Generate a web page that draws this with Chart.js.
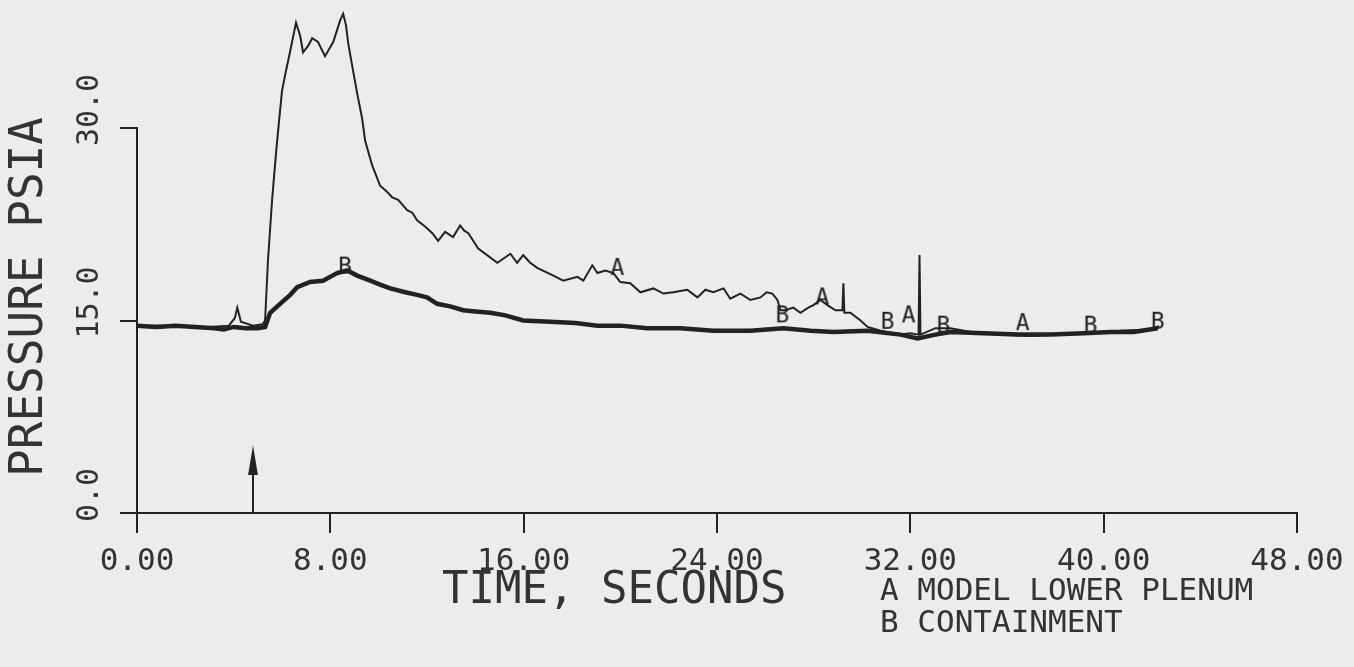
<!DOCTYPE html>
<html>
<head>
<meta charset="utf-8">
<script src="https://cdn.jsdelivr.net/npm/chart.js@4.4.1/dist/chart.umd.min.js"></script>
<style>
    html, body { margin: 0; padding: 0; background: #ececec; }
    #wrap { position: relative; width: 1354px; height: 667px; }
</style>
</head>
<body>
<div id="wrap"><canvas id="pressure-chart" width="1354" height="667"></canvas></div>
<script>
// values: time in seconds, pressure in psia
const timeA = [0, 1.0, 2.0, 3.0, 3.8, 4.05, 4.15, 4.3, 4.8, 5.2, 5.3, 5.42, 5.59, 5.76, 5.88, 6.0, 6.17, 6.34, 6.58, 6.75,
    6.87, 7.08, 7.25, 7.49, 7.78, 8.12, 8.41, 8.53, 8.65, 8.74, 8.9, 9.11, 9.32, 9.44, 9.73, 10.06, 10.31, 10.56, 10.81, 11.18,
    11.39, 11.59, 11.93, 12.22, 12.46, 12.75, 13.08, 13.37, 13.54, 13.71, 14.12, 14.91, 15.45, 15.73, 15.98, 16.27, 16.56, 17.23, 17.64, 18.22,
    18.47, 18.84, 19.05, 19.38, 19.71, 20.0, 20.41, 20.83, 21.37, 21.78, 22.19, 22.77, 23.19, 23.52, 23.85, 24.27, 24.55, 24.97, 25.38, 25.8,
    26.05, 26.29, 26.5, 26.63, 26.83, 27.16, 27.45, 27.78, 27.99, 28.28, 28.57, 28.9, 29.19, 29.23, 29.27, 29.52, 29.94, 30.23, 30.77, 31.59,
    32.0, 32.34, 32.38, 32.42, 33.04, 33.66, 34.5, 35.7, 37.0, 38.2, 39.5, 40.7, 41.9, 42.3];
const lowerPlenum = [14.6, 14.6, 14.5, 14.5, 14.6, 15.2, 16.0, 14.9, 14.6, 14.7, 15.0, 19.7, 24.4, 28.2, 30.6, 32.9, 34.5, 36.0, 38.2, 37.2,
    35.9, 36.4, 37.0, 36.7, 35.6, 36.7, 38.4, 38.9, 38.0, 36.6, 34.9, 32.7, 30.7, 29.0, 27.1, 25.5, 25.1, 24.6, 24.4, 23.6,
    23.4, 22.8, 22.3, 21.8, 21.2, 21.9, 21.5, 22.4, 22.0, 21.8, 20.6, 19.5, 20.2, 19.5, 20.1, 19.5, 19.1, 18.5, 18.1, 18.4,
    18.1, 19.3, 18.7, 18.9, 18.7, 18.0, 17.9, 17.2, 17.5, 17.1, 17.2, 17.4, 16.8, 17.4, 17.2, 17.5, 16.7, 17.1, 16.6, 16.8,
    17.2, 17.1, 16.6, 15.8, 15.8, 16.0, 15.6, 16.0, 16.2, 16.6, 16.2, 15.8, 15.8, 17.9, 15.6, 15.6, 15.0, 14.5, 14.2, 13.9,
    14.0, 13.9, 20.1, 13.9, 14.4, 14.4, 14.1, 13.9, 13.8, 13.9, 14.0, 14.2, 14.3, 14.55];

const timeB = [0, 0.8, 1.6, 2.4, 3.2, 3.6, 4.0, 4.5, 5.0, 5.3, 5.51, 5.92, 6.34, 6.63, 7.16, 7.7, 7.99, 8.28, 8.7, 9.11,
    9.65, 10.06, 10.48, 11.1, 11.59, 12.0, 12.42, 12.96, 13.5, 14.0, 14.62, 15.24, 15.98, 17.1, 18.14, 19.05, 20.0, 21.12, 22.48, 23.85,
    25.38, 26.75, 27.87, 28.82, 30.23, 31.59, 32.3, 33.04, 33.66, 35.03, 36.44, 37.8, 39.17, 40.3, 41.24, 42.24];
const containment = [14.6, 14.5, 14.6, 14.5, 14.4, 14.3, 14.5, 14.4, 14.4, 14.5, 15.6, 16.3, 17.0, 17.6, 18.0, 18.1, 18.4, 18.7, 18.9, 18.5,
    18.1, 17.8, 17.5, 17.2, 17.0, 16.8, 16.3, 16.1, 15.8, 15.7, 15.6, 15.4, 15.0, 14.9, 14.8, 14.6, 14.6, 14.4, 14.4, 14.2,
    14.2, 14.4, 14.2, 14.1, 14.2, 13.9, 13.6, 13.9, 14.1, 14.0, 13.9, 13.9, 14.0, 14.1, 14.1, 14.4];

// letter symbols drawn along the curves
const markTimeA = [19.88, 28.36, 31.93, 36.65];
const markPresA = [19.1, 16.8, 15.4, 14.8];
const markTimeB = [8.61, 26.71, 31.06, 33.37, 39.46, 42.24];
const markPresB = [19.2, 15.4, 14.9, 14.6, 14.6, 14.9];

// event arrow on the time axis
const arrowTime = [4.8, 4.8];
const arrowPres = [0, 4.1];

const xTicks = [0, 8, 16, 24, 32, 40, 48];
const yTicks = [0, 15, 30];

const INK = '#222222';
const TEXT = '#333333';
const MONO = '"DejaVu Sans Mono", monospace';

function toPoints(xs, ys) {
    return xs.map(function(x, i) { return { x: x, y: ys[i] }; });
}

function letterIcon(ch) {
    const c = document.createElement('canvas');
    c.width = 18;
    c.height = 24;
    const g = c.getContext('2d');
    g.font = '23px ' + MONO;
    g.fillStyle = INK;
    g.textAlign = 'center';
    g.textBaseline = 'middle';
    g.fillText(ch, 9, 13);
    return c;
}

function arrowHead() {
    const c = document.createElement('canvas');
    c.width = 12;
    c.height = 30;
    const g = c.getContext('2d');
    g.fillStyle = INK;
    g.beginPath();
    g.moveTo(6, 0);
    g.lineTo(11, 30);
    g.lineTo(1, 30);
    g.closePath();
    g.fill();
    return c;
}

// axis titles and the key sit at fixed spots, as on the original plot
const plotText = {
    id: 'plotText',
    afterDraw: function(chart) {
        const ctx = chart.ctx;
        ctx.save();
        ctx.fillStyle = TEXT;
        ctx.textBaseline = 'middle';

        ctx.font = '44px ' + MONO;
        ctx.textAlign = 'left';
        ctx.fillText('TIME, SECONDS', 442, 592);

        ctx.font = '31px ' + MONO;
        ctx.fillText('A MODEL LOWER PLENUM', 880, 592);
        ctx.fillText('B CONTAINMENT', 880, 624);

        ctx.translate(30, 297);
        ctx.rotate(-Math.PI / 2);
        ctx.textAlign = 'center';
        ctx.font = '46px ' + MONO;
        ctx.fillText('PRESSURE PSIA', 0, 0);
        ctx.restore();
    }
};

const ctx = document.getElementById('pressure-chart').getContext('2d');
new Chart(ctx, {
    type: 'line',
    data: {
        datasets: [
            {
                label: 'A MODEL LOWER PLENUM',
                data: toPoints(timeA, lowerPlenum),
                borderColor: INK,
                borderWidth: 2,
                pointRadius: 0,
                tension: 0,
                clip: false
            },
            {
                label: 'B CONTAINMENT',
                data: toPoints(timeB, containment),
                borderColor: INK,
                borderWidth: 4.5,
                pointRadius: 0,
                tension: 0,
                clip: false
            },
            {
                label: 'A',
                data: toPoints(markTimeA, markPresA),
                showLine: false,
                pointStyle: letterIcon('A'),
                pointRadius: 8
            },
            {
                label: 'B',
                data: toPoints(markTimeB, markPresB),
                showLine: false,
                pointStyle: letterIcon('B'),
                pointRadius: 8
            },
            {
                label: 'arrow',
                data: toPoints(arrowTime, arrowPres),
                borderColor: INK,
                borderWidth: 2,
                pointStyle: arrowHead(),
                pointRadius: [0, 8]
            }
        ]
    },
    options: {
        responsive: false,
        devicePixelRatio: 1,
        animation: false,
        events: [],
        layout: { padding: { top: 128, right: 57, bottom: 0, left: 0 } },
        plugins: {
            legend: { display: false },
            tooltip: { enabled: false }
        },
        scales: {
            x: {
                type: 'linear',
                min: xTicks[0],
                max: xTicks[xTicks.length - 1],
                afterBuildTicks: function(scale) { scale.ticks = xTicks.map(function(v) { return { value: v }; }); },
                afterFit: function(scale) { scale.height = 154; },
                ticks: {
                    callback: function(v) { return v.toFixed(2); },
                    font: { family: MONO, size: 31 },
                    color: TEXT,
                    padding: 10,
                    maxRotation: 0
                },
                grid: { drawOnChartArea: false, tickLength: 20, color: INK, lineWidth: 2 },
                border: { display: true, color: INK, width: 2 }
            },
            y: {
                min: yTicks[0],
                max: yTicks[yTicks.length - 1],
                afterBuildTicks: function(scale) { scale.ticks = yTicks.map(function(v) { return { value: v }; }); },
                afterFit: function(scale) { scale.width = 137; },
                ticks: {
                    callback: function(v) { return v.toFixed(1); },
                    font: { family: MONO, size: 30 },
                    color: TEXT,
                    minRotation: 90,
                    maxRotation: 90,
                    crossAlign: 'center',
                    labelOffset: -18,
                    padding: -6
                },
                grid: { drawOnChartArea: false, tickLength: 17, color: INK, lineWidth: 2 },
                border: { display: true, color: INK, width: 2 }
            }
        }
    },
    plugins: [plotText]
});
</script>
</body>
</html>
